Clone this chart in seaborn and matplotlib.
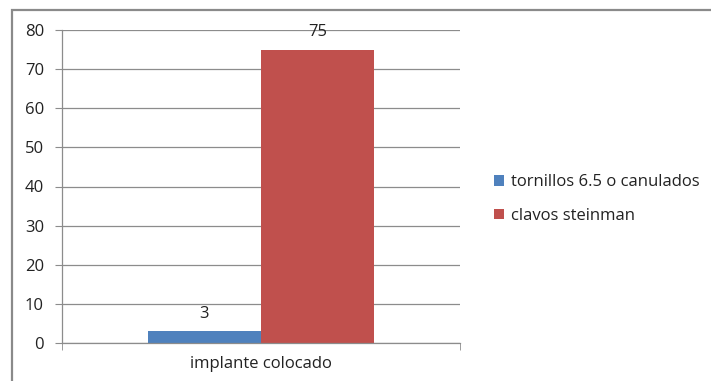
import matplotlib
matplotlib.use("Agg")
import matplotlib.pyplot as plt
import matplotlib.patches as mpatches
import seaborn as sns
import pandas as pd

# data
categories = ["implante colocado", "implante colocado"]
series = ["tornillos 6.5 o canulados", "clavos steinman"]
values = [3, 75]
colors = ["#4F81BD", "#C0504D"]

df = pd.DataFrame({"categoria": categories, "serie": series, "valor": values})

sns.set_style("white")
plt.rcParams['font.family'] = ['Open Sans', 'DejaVu Sans']

fig = plt.figure(figsize=(7.11, 3.81), dpi=100)
ax = fig.add_axes([62 / 711, 1 - 343 / 381, 398 / 711, 313 / 381])

sns.barplot(data=df, x="categoria", y="valor", hue="serie", palette=colors,
            width=0.568, gap=0, saturation=1, linewidth=0, ax=ax, legend=True)

for c in ax.containers:
    ax.bar_label(c, padding=7, fontsize=12, color="#222222")

ax.set_ylim(0, 80)
ax.set_xlim(-0.5, 0.5)
ax.set_yticks(range(0, 81, 10))
ax.yaxis.grid(True, color="#8c8c8c", linewidth=0.9)
ax.set_axisbelow(True)
ax.set_xlabel("")
ax.set_ylabel("")

for s in ["top", "right"]:
    ax.spines[s].set_visible(False)
for s in ["left", "bottom"]:
    ax.spines[s].set_color("#8c8c8c")
    ax.spines[s].set_linewidth(0.9)

ax.tick_params(axis="y", length=5, color="#8c8c8c", labelsize=12, pad=8, left=True, labelcolor="#222222")
ax.tick_params(axis="x", length=0, labelsize=12, pad=9, labelcolor="#222222")
ax.set_xticks([-0.5, 0.5], minor=True)
ax.tick_params(axis="x", which="minor", length=5, color="#8c8c8c", bottom=True)

handles, labels = ax.get_legend_handles_labels()
ax.legend(handles, labels, loc="center left", bbox_to_anchor=(1.048, 0.46),
          frameon=False, fontsize=12, handlelength=0.6, handleheight=0.6,
          handletextpad=0.4, labelspacing=1.05, labelcolor="#222222")

fig.patches.append(mpatches.Rectangle((12 / 711, -0.1), 1.2, 1 - 10 / 381 + 0.1,
                                      transform=fig.transFigure, fill=False,
                                      edgecolor="#8a8a8a", linewidth=1.6))

fig.savefig("out.png", dpi=100)
